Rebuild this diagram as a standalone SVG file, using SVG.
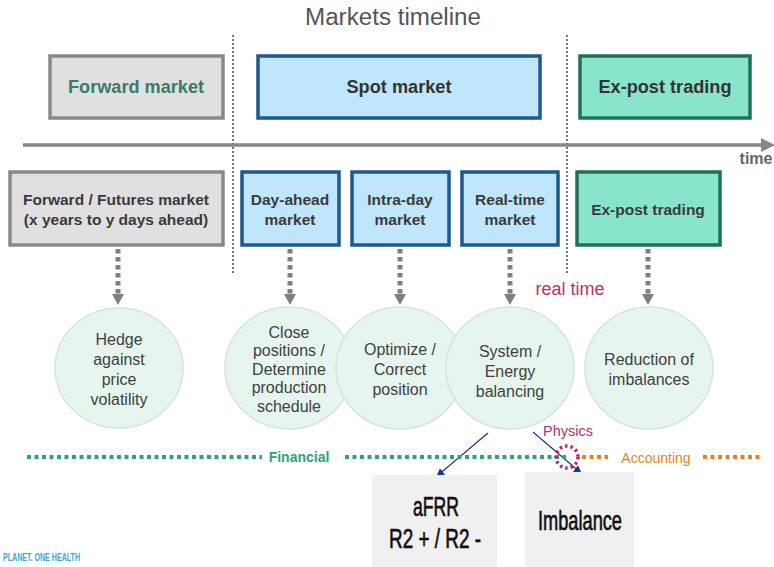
<svg xmlns="http://www.w3.org/2000/svg" width="774" height="567" viewBox="0 0 774 567">
<defs>
<style>
text{font-family:"Liberation Sans",Arial,sans-serif}
.gray{fill:#e0e0e0;stroke:#888;stroke-width:3.5}
.blue{fill:#bfe6fb;stroke:#1d5a8a;stroke-width:3.5}
.green{fill:#88e5cc;stroke:#1f7058;stroke-width:3.5}
.bt{font-weight:bold;font-size:15.5px;fill:#3a3a3a;text-anchor:middle}
.tt{font-weight:bold;font-size:18px;text-anchor:middle}
.circ{fill:#e7f5ef;stroke:#d5e5dd;stroke-width:1.5}
.ct{font-size:16px;fill:#404040;text-anchor:middle}
.vdot{stroke:#777;stroke-width:2;stroke-dasharray:2,2}
.darr{stroke:#808080;stroke-width:5;stroke-dasharray:4.5,3.5;fill:none}
.ah{fill:#808080}
.big{font-size:28px;fill:#111;stroke:#111;stroke-width:0.7}
</style>
<marker id="navy" viewBox="0 0 10 10" refX="9" refY="5" markerWidth="8" markerHeight="8" markerUnits="userSpaceOnUse" orient="auto"><path d="M0,0 L10,5 L0,10 Z" fill="#1a3a8f"/></marker>
</defs>
<rect width="774" height="567" fill="#fff"/>
<text x="305" y="25" font-size="23" fill="#555" textLength="176" lengthAdjust="spacingAndGlyphs">Markets timeline</text>

<line class="vdot" x1="233" y1="35" x2="233" y2="273"/>
<line class="vdot" x1="567" y1="35" x2="567" y2="273"/>

<g id="timeline">
<line x1="23" y1="145" x2="763" y2="145" stroke="#888" stroke-width="3.5"/>
<path d="M761,138 L775,145 L761,152 Z" fill="#888"/>
<text x="756" y="164" font-size="16" fill="#666" text-anchor="middle" font-weight="bold">time</text>
</g>

<g id="forward-market"><rect class="gray" x="50" y="56" width="173" height="62"/><text class="tt" x="136" y="93" fill="#3a7a6c" textLength="136" lengthAdjust="spacingAndGlyphs">Forward market</text></g>
<g id="spot-market"><rect class="blue" x="258" y="56" width="282" height="62"/><text class="tt" x="399" y="93" fill="#333" textLength="105" lengthAdjust="spacingAndGlyphs">Spot market</text></g>
<g id="ex-post-top"><rect class="green" x="580" y="56" width="170" height="62"/><text class="tt" x="665" y="93" fill="#333" textLength="133" lengthAdjust="spacingAndGlyphs">Ex-post trading</text></g>

<g id="futures"><rect class="gray" x="10" y="172" width="213" height="73"/><text class="bt" x="116" y="205">Forward / Futures market</text><text class="bt" x="116" y="225">(x years to y days ahead)</text></g>
<g id="day-ahead"><rect class="blue" x="242" y="172" width="97" height="73"/><text class="bt" x="290" y="205">Day-ahead</text><text class="bt" x="290" y="225">market</text></g>
<g id="intra-day"><rect class="blue" x="352" y="172" width="97" height="73"/><text class="bt" x="400" y="205">Intra-day</text><text class="bt" x="400" y="225">market</text></g>
<g id="real-time"><rect class="blue" x="462" y="172" width="96" height="73"/><text class="bt" x="510" y="205">Real-time</text><text class="bt" x="510" y="225">market</text></g>
<g id="ex-post"><rect class="green" x="577" y="172" width="143" height="73"/><text class="bt" x="648" y="215">Ex-post trading</text></g>

<g id="connectors">
<line class="darr" x1="118" y1="249" x2="118" y2="295"/><path class="ah" d="M112,294 L124,294 L118,305 Z"/>
<line class="darr" x1="290" y1="249" x2="290" y2="295"/><path class="ah" d="M284,294 L296,294 L290,305 Z"/>
<line class="darr" x1="400" y1="249" x2="400" y2="295"/><path class="ah" d="M394,294 L406,294 L400,305 Z"/>
<line class="darr" x1="510" y1="249" x2="510" y2="295"/><path class="ah" d="M504,294 L516,294 L510,305 Z"/>
<line class="darr" x1="648" y1="249" x2="648" y2="295"/><path class="ah" d="M642,294 L654,294 L648,305 Z"/>
<line x1="488" y1="433" x2="437" y2="476" stroke="#1a3a8f" stroke-width="1.2" marker-end="url(#navy)"/>
<line x1="533" y1="432" x2="581" y2="473" stroke="#1a3a8f" stroke-width="1.2" marker-end="url(#navy)"/>
</g>

<text x="570" y="295" font-size="18" fill="#c0306a" text-anchor="middle">real time</text>

<g id="hedge"><ellipse class="circ" cx="119" cy="368" rx="64" ry="60"/><text class="ct" x="119" y="345">Hedge</text><text class="ct" x="119" y="365">against</text><text class="ct" x="119" y="385">price</text><text class="ct" x="119" y="405">volatility</text></g>
<g id="close"><ellipse class="circ" cx="289" cy="368" rx="64" ry="61"/><text class="ct" x="289" y="338">Close</text><text class="ct" x="289" y="356">positions /</text><text class="ct" x="289" y="375">Determine</text><text class="ct" x="289" y="393">production</text><text class="ct" x="289" y="412">schedule</text></g>
<g id="optimize"><ellipse class="circ" cx="400" cy="368" rx="64" ry="61"/><text class="ct" x="400" y="355">Optimize /</text><text class="ct" x="400" y="375">Correct</text><text class="ct" x="400" y="395">position</text></g>
<g id="system"><ellipse class="circ" cx="510" cy="368" rx="64" ry="61"/><text class="ct" x="510" y="357">System /</text><text class="ct" x="510" y="377">Energy</text><text class="ct" x="510" y="397">balancing</text></g>
<g id="reduction"><ellipse class="circ" cx="649" cy="368" rx="64" ry="61"/><text class="ct" x="649" y="365">Reduction of</text><text class="ct" x="649" y="385">imbalances</text></g>

<g id="financial-line">
<line x1="27" y1="457" x2="262" y2="457" stroke="#2aa57a" stroke-width="4" stroke-dasharray="4,3.5"/>
<text x="299" y="462" font-size="14" font-weight="bold" fill="#2aa57a" text-anchor="middle">Financial</text>
<line x1="345" y1="457" x2="566" y2="457" stroke="#2aa57a" stroke-width="4" stroke-dasharray="4,3.5"/>
<line x1="582" y1="457" x2="608" y2="457" stroke="#e8821e" stroke-width="4" stroke-dasharray="4,3.5"/>
<text x="656" y="463" font-size="14" fill="#e8821e" text-anchor="middle">Accounting</text>
<line x1="703" y1="457" x2="762" y2="457" stroke="#e8821e" stroke-width="4" stroke-dasharray="4,3.5"/>
</g>

<g id="physics">
<text x="568" y="436" font-size="14.5" fill="#b5306a" text-anchor="middle">Physics</text>
<circle cx="567" cy="457" r="11" fill="none" stroke="#c0206a" stroke-width="3.5" stroke-dasharray="2.5,3"/>
</g>

<g id="afrr"><rect x="372" y="475" width="125" height="92" fill="#f0f0f0"/><text class="big" x="413" y="516" textLength="46" lengthAdjust="spacingAndGlyphs">aFRR</text><text class="big" x="389" y="548" textLength="92" lengthAdjust="spacingAndGlyphs">R2 + / R2 -</text></g>
<g id="imbalance"><rect x="525" y="472" width="109" height="95" fill="#f0f0f0"/><text class="big" x="538" y="530" textLength="84" lengthAdjust="spacingAndGlyphs">Imbalance</text></g>

<text x="3" y="561" font-size="10.5" font-weight="bold" fill="#3aa6d8" textLength="77" lengthAdjust="spacingAndGlyphs">PLANET. ONE HEALTH</text>
</svg>
